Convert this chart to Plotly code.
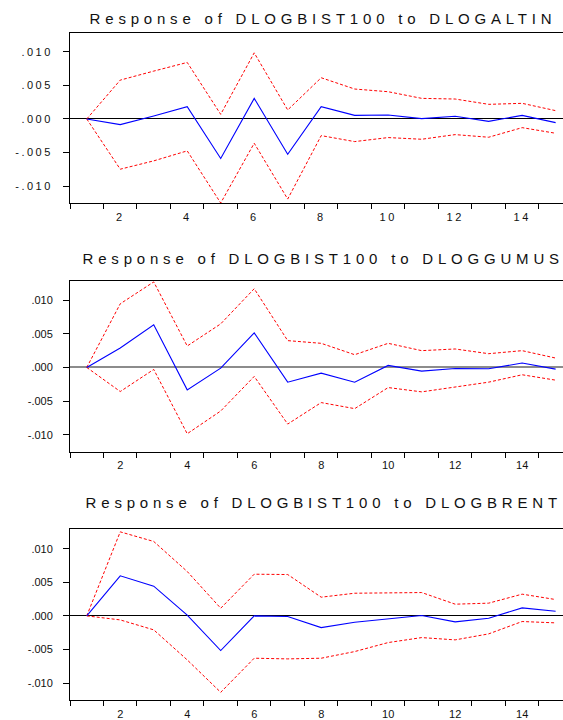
import plotly.graph_objects as go

periods = list(range(1, 16))

titles = [
    "Response of DLOGBIST100 to DLOGALTIN",
    "Response of DLOGBIST100 to DLOGGUMUS",
    "Response of DLOGBIST100 to DLOGBRENT",
]

altin_resp = [0.0, -0.00084, 0.00045, 0.00183, -0.00589, 0.00307, -0.00525, 0.00183,
              0.00054, 0.00059, 0.00005, 0.00040, -0.00035, 0.00054, -0.00054]
altin_upper = [0.0, 0.00579, 0.00713, 0.00842, 0.00069, 0.00985, 0.00134, 0.00614,
               0.00446, 0.00406, 0.00307, 0.00297, 0.00218, 0.00233, 0.00124]
altin_lower = [0.0, -0.00748, -0.00624, -0.00475, -0.01252, -0.00361, -0.01193, -0.00248,
               -0.00337, -0.00277, -0.00302, -0.00233, -0.00272, -0.00129, -0.00213]

gumus_resp = [0.0, 0.00289, 0.00632, -0.00333, -0.00010, 0.00512, -0.00219, -0.00085,
              -0.00219, 0.00030, -0.00055, -0.00015, -0.00020, 0.00065, -0.00025]
gumus_upper = [0.0, 0.00945, 0.01270, 0.00318, 0.00647, 0.01169, 0.00398, 0.00358,
               0.00189, 0.00358, 0.00249, 0.00274, 0.00204, 0.00249, 0.00139]
gumus_lower = [0.0, -0.00358, -0.00030, -0.00985, -0.00647, -0.00134, -0.00841, -0.00522,
               -0.00612, -0.00299, -0.00363, -0.00294, -0.00219, -0.00109, -0.00189]

brent_resp = [0.0, 0.00596, 0.00442, 0.00010, -0.00516, 0.0, -0.00010, -0.00174,
              -0.00094, -0.00040, 0.00005, -0.00089, -0.00035, 0.00119, 0.00069]
brent_upper = [0.0, 0.01250, 0.01107, 0.00660, 0.00114, 0.00620, 0.00615, 0.00278,
               0.00337, 0.00337, 0.00347, 0.00174, 0.00189, 0.00323, 0.00243]
brent_lower = [0.0, -0.00060, -0.00208, -0.00655, -0.01137, -0.00630, -0.00640, -0.00630,
               -0.00531, -0.00397, -0.00323, -0.00357, -0.00268, -0.00084, -0.00104]

ytick_vals = [-0.010, -0.005, 0.0, 0.005, 0.010]
ytick_text = ["-.010", "-.005", ".000", ".005", ".010"]
xtick_vals = [2, 4, 6, 8, 10, 12, 14]
xtick_text = ["2", "4", "6", "8", "10", "12", "14"]

panels = [
    (altin_resp, altin_upper, altin_lower),
    (gumus_resp, gumus_upper, gumus_lower),
    (brent_resp, brent_upper, brent_lower),
]

W, H = 563, 720
ML = 70
plot_tops = [32.5, 280.7, 529.3]
plot_bottoms = [203.3, 452.0, 700.3]
title_y = [18.0, 258.3, 502.0]
zero_colors = ["#000000", "#8c8c8c", "#000000"]
zero_widths = [1, 1.5, 1]

fig = go.Figure()
tick_font = dict(family="Liberation Sans, Arial, sans-serif", size=11, color="#111111")

for i, (resp, up, lo) in enumerate(panels):
    n = "" if i == 0 else str(i + 1)
    xa, ya = "x" + n, "y" + n
    for arr, color, dash, width in [(up, "#ff0000", "3px,2px", 1),
                                    (lo, "#ff0000", "3px,2px", 1),
                                    (resp, "#0000ff", "solid", 1.1)]:
        fig.add_trace(go.Scatter(x=periods, y=arr, mode="lines", xaxis=xa, yaxis=ya,
                                 line=dict(color=color, width=width, dash=dash),
                                 showlegend=False, hoverinfo="skip"))
    dom = [1 - plot_bottoms[i] / H, 1 - plot_tops[i] / H]
    fig.layout["xaxis" + n] = dict(
        domain=[0, 1], anchor=ya, range=[0.5, 15.22],
        tickmode="array", tickvals=xtick_vals, ticktext=xtick_text,
        ticks="outside", ticklen=0, ticklabelstandoff=3,
        minor=dict(tick0=0.5, dtick=1, ticks="outside", ticklen=5,
                   tickcolor="#000000", tickwidth=1, showgrid=False),
        showline=True, linecolor="#000000", linewidth=1, mirror=True,
        showgrid=False, zeroline=False, tickfont=tick_font,
    )
    fig.layout["yaxis" + n] = dict(
        domain=dom, anchor=xa, range=[-0.01256, 0.01288],
        tickmode="array", tickvals=ytick_vals, ticktext=ytick_text,
        ticks="outside", ticklen=6, tickcolor="#000000", tickwidth=1,
        ticklabelstandoff=8,
        showline=True, linecolor="#000000", linewidth=1, mirror=False,
        showgrid=False, zeroline=True, zerolinecolor=zero_colors[i],
        zerolinewidth=zero_widths[i], tickfont=tick_font,
    )
    fig.add_annotation(text=titles[i], xref="paper", yref="paper",
                       x=(323 - ML) / (W - ML), y=1 - title_y[i] / H,
                       xanchor="center", yanchor="middle", showarrow=False,
                       font=dict(family="Liberation Sans, Arial, sans-serif", size=15,
                                 color="#111111"))

fig.update_layout(width=W, height=H, margin=dict(l=ML, r=0, t=0, b=0),
                  paper_bgcolor="white", plot_bgcolor="white")

post = """
var gd = document.getElementById('{plot_id}');
function spacing(){
  gd.querySelectorAll('.xtick text, .ytick text').forEach(function(t){t.style.letterSpacing='2.5px';});
  gd.querySelectorAll('.annotation-text').forEach(function(t){t.style.letterSpacing='4.8px';});
}
spacing();
gd.on('plotly_afterplot', spacing);
"""
fig.write_html("out.html", post_script=post)
